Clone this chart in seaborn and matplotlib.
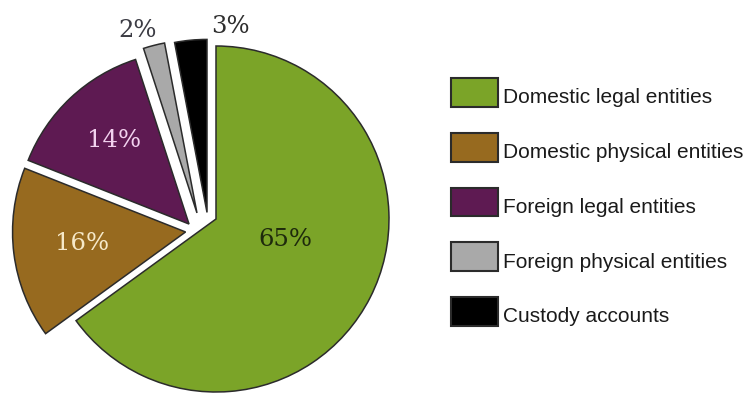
import matplotlib
matplotlib.use("Agg")
import matplotlib.pyplot as plt
import matplotlib.transforms as mtransforms
import seaborn as sns

# Shareholder structure by holder type
categories = [
    "Domestic legal entities",
    "Domestic physical entities",
    "Foreign legal entities",
    "Foreign physical entities",
    "Custody accounts",
]
shares = [65, 16, 14, 2, 3]

slice_colors = ["#7ba428", "#976a1f", "#5e1a52", "#a9a9a9", "#000000"]
label_colors = ["#1e2a0c", "#f6e9c9", "#f2d2ef", "#3c3c44", "#2e2e2e"]

# Displacement of each wedge from the pie centre (radius units)
wedge_shift = [(0.0, 0.0), (-0.176, -0.075), (-0.156, -0.029),
               (-0.110, 0.035), (-0.052, 0.038)]
# Where each percentage label sits (radius units, pie centre at origin)
label_xy = [(0.399, -0.121), (-0.775, -0.139), (-0.590, 0.451),
            (-0.451, 1.092), (0.081, 1.110)]

sns.set_theme(style="white")
plt.rcParams["font.family"] = ["Liberation Sans", "DejaVu Sans"]

W, H, DPI = 754, 394, 100
fig = plt.figure(figsize=(W / DPI, H / DPI), dpi=DPI)
fig.patch.set_facecolor("white")
ax = fig.add_axes([0, 0, 1, 1])

wedges, _ = ax.pie(
    shares,
    colors=slice_colors,
    startangle=90,
    counterclock=False,
    radius=1.0,
    wedgeprops=dict(edgecolor="#2b2b2b", linewidth=1.1),
)
for w, (dx, dy) in zip(wedges, wedge_shift):
    w.set_center((dx, dy))

for v, (x, y), c in zip(shares, label_xy, label_colors):
    ax.text(x, y, f"{v}%", ha="center", va="center", color=c,
            fontsize=17.5, family="DejaVu Serif")

# pie centre at (216, 219) px, radius 173 px
R, CX, CY = 173.0, 216.0, 219.0
ax.set_aspect("auto")
ax.set_xlim(-CX / R, (W - CX) / R)
ax.set_ylim(-(H - CY) / R, CY / R)
ax.axis("off")

leg = fig.legend(
    wedges, categories,
    loc="upper left",
    bbox_to_anchor=(451 / W, 1 - 78 / H),
    frameon=False,
    borderpad=0, borderaxespad=0,
    fontsize=15,
    handlelength=2.24, handleheight=1.76,
    labelspacing=1.24, handletextpad=0.25,
    labelcolor="#1a1a1a",
)
for h in leg.legend_handles:
    h.set_linewidth(1.5)
# entry text sits a little below the middle of its swatch
drop = mtransforms.ScaledTranslation(0, -4 / DPI, fig.dpi_scale_trans)
for t in leg.get_texts():
    t.set_transform(t.get_transform() + drop)

fig.savefig("out.png", dpi=DPI, facecolor="white")
